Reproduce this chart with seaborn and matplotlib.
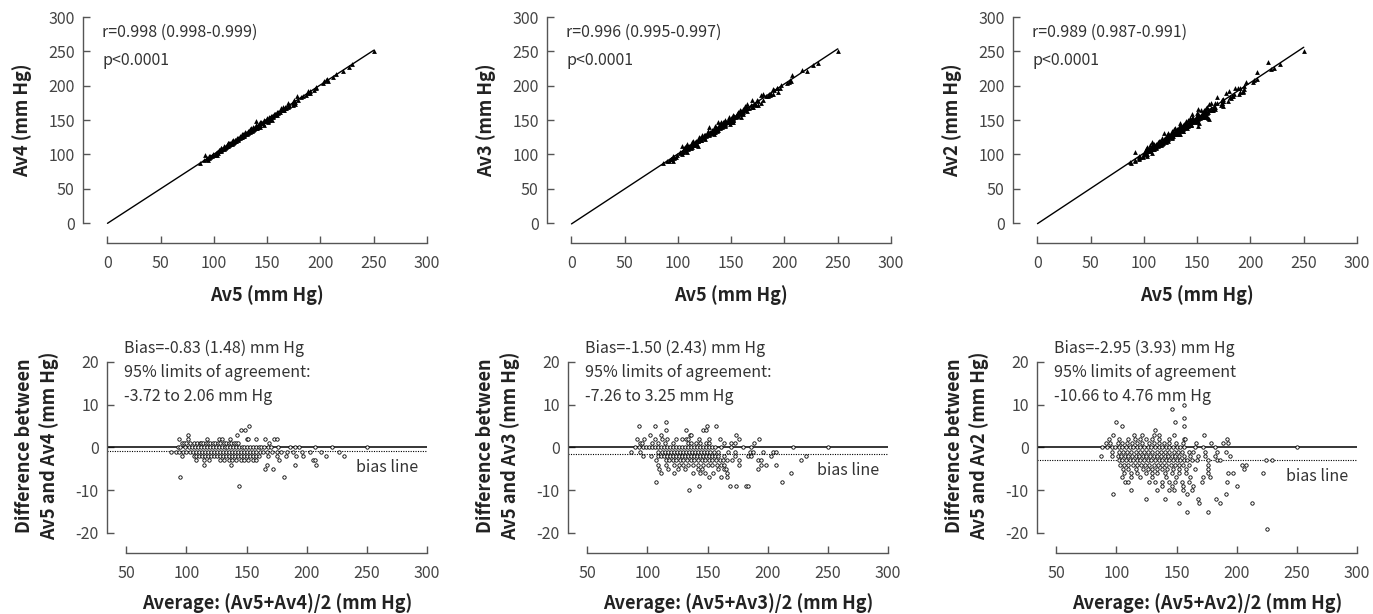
import numpy as np
import matplotlib
matplotlib.use("Agg")
import matplotlib.pyplot as plt
import seaborn as sns

# Bland-Altman readings: one list of pair means per integer difference level (Av5 - AvN)
av4_levels = [5, 4, 3, 2, 1, 0, -1, -2, -3, -4, -5, -7, -9]
av4_rows = [
    [152],
    [145, 149],
    [101, 142],
    [93.5, 101, 117, 127.5, 130, 136, 150, 151, 158, 165, 173, 175],
    [96, 98, 100, 103, 106, 109, 111, 112.5, 114, 116, 118, 120, 122, 124, 126, 128,
     131, 133, 135, 137, 139.5, 141, 143, 169],
    [93, 95, 99, 102, 104.5, 107, 110, 112, 115, 117.5, 120, 122.5, 125, 127, 129.5,
     132, 134, 136.5, 139, 141, 143.5, 146, 148, 150.5, 153, 155, 157.5, 160, 162,
     164.5, 168, 170, 176, 186, 190, 194, 207, 221, 250],
    [87, 91, 94, 97, 100, 103, 105.5, 108, 110.5, 113, 115.5, 118, 120.5, 123, 125.5,
     128, 130.5, 133, 135.5, 138, 140.5, 143, 145.5, 148, 150.5, 153, 155.5, 158, 161,
     164, 167, 171, 175, 179, 184, 189, 196, 203, 212, 227],
    [96, 106, 108, 110.5, 113, 115.5, 118, 120.5, 123, 125.5, 128, 130.5, 133, 135.5,
     138, 140.5, 143, 145.5, 148, 150.5, 153, 155.5, 158, 160, 168, 175, 183, 191,
     197, 216, 231],
    [108, 115, 119, 128, 131, 135, 138, 141, 145, 148, 151, 155, 158, 177, 205, 207],
    [115, 137, 167, 190, 208],
    [165, 172],
    [95, 181],
    [143.5],
]

av3_levels = [6, 5, 4, 3, 2, 1, 0, -1, -2, -3, -4, -5, -6, -7, -8, -9, -10]
av3_rows = [
    [115.5],
    [93, 106, 149.5, 157],
    [115.5, 132, 146.5, 148.5],
    [102, 111, 135.5, 136.5, 174],
    [91, 97.5, 106.5, 112, 116, 124, 128.5, 132, 133.5, 143, 151, 160, 176.5, 192.5],
    [93.5, 95.5, 104, 109, 114.5, 121, 133.5, 136.5, 140.5, 143.5, 149, 151, 164,
     169.5, 172.5, 188.5],
    [90, 93, 96, 99, 101.5, 104, 106.5, 109, 111.5, 114, 116.5, 119, 121.5, 124, 126.5,
     129, 131.5, 134, 136.5, 139, 141.5, 144, 146.5, 149, 151.5, 154, 156.5, 161,
     169.5, 179.5, 186.5, 221, 250],
    [86.5, 93.5, 109, 112, 114.5, 117, 119.5, 122, 124.5, 127, 129.5, 132, 134.5, 137,
     139.5, 142, 144.5, 147, 149.5, 152, 155, 158.5, 167, 172.5, 185, 187.5, 196,
     204.5, 207],
    [96.5, 103, 109, 111.5, 114, 116.5, 119, 121.5, 124, 126.5, 129, 131.5, 134, 136.5,
     139, 141.5, 144, 146.5, 149, 151.5, 154, 156.5, 159, 164, 172.5, 183.5, 186.5,
     203, 232],
    [107.5, 115.5, 118, 121, 124, 127, 130, 133, 136, 139, 142, 145, 148, 151, 154,
     157, 160, 163, 166, 170, 176.5, 192, 194.5, 228],
    [109, 115.5, 122.5, 126, 130, 134, 138, 142, 146, 150, 154, 158, 161, 164, 176.5,
     194.5, 199, 207],
    [110, 117, 125.5, 131, 142, 145, 158.5, 164, 165.5, 192],
    [111.5, 122.5, 138, 143.5, 147.5, 154.5, 166.5, 219.5],
    [151, 161.5, 166.5],
    [107.5, 211.5],
    [142.5, 169, 174, 182, 184],
    [134.5],
]

av2_levels = [10, 9, 7, 6, 5, 4, 3, 2, 1, 0, -1, -2, -3, -4, -5, -6, -7, -8, -9, -10,
              -11, -12, -13, -15, -19]
av2_rows = [
    [156],
    [146],
    [156.5],
    [100, 149],
    [105, 156.5],
    [132],
    [97.5, 114.5, 121.5, 131.5, 135, 148, 172.5],
    [94, 102, 110, 115.5, 119.5, 125, 130, 135.5, 143.5, 156, 157, 192],
    [91, 95, 101, 105, 109, 113, 117.5, 121.5, 127, 131.5, 135.5, 139.5, 144, 149.5,
     155, 166, 178.5, 188.5, 192.5],
    [88, 92, 96, 99, 102, 105, 108, 111, 114, 117, 120, 123, 126, 129, 132, 135, 138,
     141, 144, 147, 150, 153, 156, 165, 172, 182, 250],
    [96, 102, 105.5, 109, 112.5, 116, 119.5, 123, 126.5, 130, 133.5, 137, 140.5, 144,
     147.5, 151, 154.5, 160, 164, 174, 184, 191],
    [87.5, 96.5, 101.5, 104, 107, 110, 113, 116, 119, 122, 125, 128, 131, 134, 137,
     140, 143, 146, 149, 152, 156, 161, 168, 174, 182, 194.5],
    [102, 105, 108, 111, 114, 117, 120, 123, 126, 129, 132, 135, 138, 141, 144, 147,
     150, 153, 156, 159, 163, 167, 176, 184, 186, 224, 229.5],
    [103, 106.5, 110, 113.5, 117, 120.5, 124, 127.5, 131, 134.5, 138, 141.5, 145,
     148.5, 152, 155.5, 160, 176, 204, 208],
    [105.5, 110, 116, 122, 126, 130, 134, 138, 142, 147, 152, 158, 165, 176, 206],
    [106, 112, 117, 125, 130, 134, 140, 146, 152, 158, 176, 193, 197, 222],
    [105, 112, 120, 130, 141, 149.5, 161, 172, 177.5],
    [107, 109.5, 127, 132.5, 138, 143.5, 149, 154.5, 160, 171, 192],
    [138, 146, 155, 164, 200.5],
    [112.5, 134, 144, 148, 155, 163],
    [97.5, 159, 191],
    [124.5, 140, 167.5, 183],
    [152, 169, 186, 213],
    [158.5, 176.5],
    [225.5],
]

names = ["Av4", "Av3", "Av2"]
r_texts = ["r=0.998 (0.998-0.999)", "r=0.996 (0.995-0.997)", "r=0.989 (0.987-0.991)"]
bias = [-0.83, -1.50, -2.95]
bias_texts = [
    ["Bias=-0.83 (1.48) mm Hg", "95% limits of agreement:", "-3.72 to 2.06 mm Hg"],
    ["Bias=-1.50 (2.43) mm Hg", "95% limits of agreement:", "-7.26 to 3.25 mm Hg"],
    ["Bias=-2.95 (3.93) mm Hg", "95% limits of agreement", "-10.66 to 4.76 mm Hg"],
]

sns.set_style("ticks")
plt.rcParams['font.family'] = ['Noto Sans CJK KR', 'DejaVu Sans']
plt.rcParams['axes.unicode_minus'] = False

W, H = 1373, 614
fig = plt.figure(figsize=(W / 100, H / 100), dpi=100)

spine_col = "#555555"
tick_col = "#444444"
txt_col = "#333333"
lab_col = "#222222"


def style_axes(ax):
    for s in ["top", "right"]:
        ax.spines[s].set_visible(False)
    for s in ["left", "bottom"]:
        ax.spines[s].set_color(spine_col)
        ax.spines[s].set_linewidth(1.0)
    ax.tick_params(direction="in", length=5, width=1, color=spine_col,
                   labelsize=11.5, labelcolor=tick_col, pad=6)
    ax.tick_params(axis="x", pad=9)


top_left = [83, 547, 1013]
bot_left = [107, 568, 1037]

for i, (levels, rows) in enumerate([(av4_levels, av4_rows), (av3_levels, av3_rows),
                                    (av2_levels, av2_rows)]):
    mean = np.concatenate([np.array(r, float) for r in rows])
    diff = np.repeat(np.array(levels, float), [len(r) for r in rows])
    av5 = mean + diff / 2
    avn = mean - diff / 2

    # correlation panel
    ax = fig.add_axes([top_left[i] / W, 1 - 243 / H, 344 / W, 226 / H])
    sns.scatterplot(x=av5, y=avn, ax=ax, marker="^", s=12, color="black",
                    linewidth=0, zorder=3)
    slope, icpt = np.polyfit(av5, avn, 1)
    xs = np.array([0, av5.max()])
    ax.plot(xs, slope * xs + icpt, color="black", lw=1.0, zorder=2)
    ax.set_xlim(-23, 300)
    ax.set_ylim(-29, 300)
    ax.set_xticks(range(0, 301, 50))
    ax.set_yticks(range(0, 301, 50))
    ax.spines["left"].set_bounds(0, 300)
    ax.spines["bottom"].set_bounds(0, 300)
    style_axes(ax)
    ax.set_xlabel("")
    ax.set_ylabel("")
    ax.text(-5, 278, r_texts[i], fontsize=11.5, color=txt_col, va="center")
    ax.text(-5, 237, "p<0.0001", fontsize=11.5, color=txt_col, va="center")
    fig.text((top_left[i] + 184) / W, 1 - 295 / H, "Av5 (mm Hg)", fontsize=13,
             fontweight="bold", ha="center", va="center", color=lab_col)
    fig.text((top_left[i] - 61) / W, 1 - 120 / H, names[i] + " (mm Hg)", fontsize=13,
             fontweight="bold", ha="center", va="center", rotation=90, color=lab_col)

    # Bland-Altman panel
    bx = fig.add_axes([bot_left[i] / W, 1 - 553 / H, 320 / W, 191 / H])
    sns.scatterplot(x=mean, y=diff, ax=bx, marker="o", s=6, facecolor="white",
                    edgecolor="black", linewidth=0.6, zorder=3)
    bx.axhline(0, color="black", lw=1.1, zorder=2)
    bx.axhline(bias[i], color="black", lw=0.8, ls=(0, (1, 1.2)), zorder=2)
    bx.set_xlim(34, 300)
    bx.set_ylim(-24.7, 20)
    bx.set_xticks(range(50, 301, 50))
    bx.set_yticks(range(-20, 21, 10))
    bx.spines["left"].set_bounds(-20, 20)
    bx.spines["bottom"].set_bounds(50, 300)
    style_axes(bx)
    bx.set_xlabel("")
    bx.set_ylabel("")
    for k, t in enumerate(bias_texts[i]):
        bx.text(48, 23.3 - 5.65 * k, t, fontsize=11.5, color=txt_col, va="center",
                clip_on=False)
    bx.text(293, bias[i] - 3.8, "bias line", fontsize=11.5, color=txt_col,
            ha="right", va="center")
    fig.text((bot_left[i] + 170) / W, 1 - 603 / H,
             "Average: (Av5+%s)/2 (mm Hg)" % names[i], fontsize=13,
             fontweight="bold", ha="center", va="center", color=lab_col)
    fig.text((bot_left[i] - 70) / W, 1 - 446 / H,
             "Difference between\nAv5 and %s (mm Hg)" % names[i], fontsize=13,
             fontweight="bold", ha="center", va="center", rotation=90,
             linespacing=1.35, color=lab_col)

fig.savefig("out.png", dpi=100)
